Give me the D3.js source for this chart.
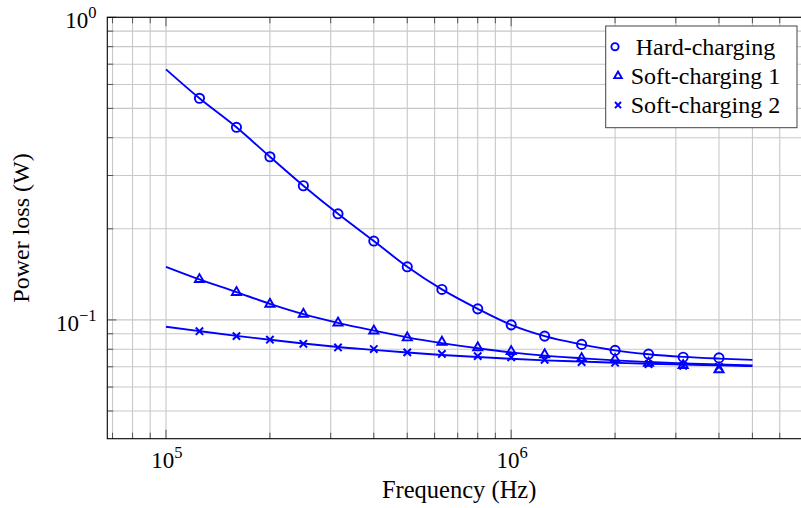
<!DOCTYPE html>
<meta charset="utf-8">
<head>
    <title>Power loss vs frequency</title>
</head>
<style>
    body { margin: 0; background: #fff; }
    text { font-family: "Liberation Serif", "Times New Roman", serif; fill: #000; }
</style>
<div id="chart"></div>
<script src="https://d3js.org/d3.v7.min.js"></script>
<script>

    // measured points (markers)
    var markerFreq = [1.25e5, 1.6e5, 2e5, 2.5e5, 3.15e5, 4e5, 5e5, 6.3e5, 8e5,
                      1e6, 1.25e6, 1.6e6, 2e6, 2.5e6, 3.15e6, 4e6];
    var hardPts  = [0.540, 0.433, 0.346, 0.2776, 0.2242, 0.1822, 0.1498, 0.1261, 0.1088,
                    0.0963, 0.0884, 0.0830, 0.0793, 0.0771, 0.0753, 0.0749];
    var soft1Pts = [0.1361, 0.1233, 0.1128, 0.1045, 0.0978, 0.0920, 0.0873, 0.0845, 0.0810,
                    0.0787, 0.0768, 0.0746, 0.0740, 0.0720, 0.0707, 0.0685];
    var soft2Pts = [0.0918, 0.0884, 0.0860, 0.0834, 0.0811, 0.0801, 0.0781, 0.0772, 0.0759,
                    0.0752, 0.0738, 0.0726, 0.0722, 0.0714, 0.0705, 0.0700];

    // model curves (solid lines)
    var curveFreq = [1e5, 1.25e5, 1.6e5, 2e5, 2.5e5, 3.15e5, 4e5, 5e5, 6.3e5, 8e5,
                     1e6, 1.25e6, 1.6e6, 2e6, 2.5e6, 3.15e6, 4e6, 5e6];
    var hardFit  = [0.673, 0.540, 0.433, 0.346, 0.2776, 0.2242, 0.1822, 0.1498, 0.1261, 0.1088,
                    0.0963, 0.0884, 0.0830, 0.0793, 0.0770, 0.0755, 0.0745, 0.0738];
    var soft1Fit = [0.1498, 0.1361, 0.1236, 0.1130, 0.1045, 0.0978, 0.0922, 0.0876, 0.0838, 0.0806,
                    0.0781, 0.0762, 0.0747, 0.0735, 0.0726, 0.0718, 0.0712, 0.0707];
    var soft2Fit = [0.0949, 0.0918, 0.0886, 0.0860, 0.0836, 0.0814, 0.0796, 0.0780, 0.0766, 0.0754,
                    0.0744, 0.0735, 0.0728, 0.0722, 0.0716, 0.0712, 0.0708, 0.0704];

    var seriesNames = ["Hard-charging", "Soft-charging 1", "Soft-charging 2"];
    var seriesMarks = ["circle", "triangle", "cross"];

    var xMajor = [1e5, 1e6];
    var xMinor = [7e4, 8e4, 9e4, 2e5, 3e5, 4e5, 5e5, 6e5, 7e5, 8e5, 9e5,
                  2e6, 3e6, 4e6, 5e6, 6e6, 7e6];
    var yMajor = [1e-1, 1];
    var yMinor = [0.05, 0.06, 0.07, 0.08, 0.09, 0.2, 0.3, 0.4, 0.5, 0.6, 0.7, 0.8, 0.9];
    var xTickExp = ["5", "6"];
    var yTickExp = ["\u22121", "0"];

    var W = 801, H = 508;
    var pL = 107.3, pR = 811, pT = 17.3, pB = 438.7;
    var blue = "#0000ff";

    var svg = d3.select("#chart").append("svg")
        .attr("width", W).attr("height", H);

    var x = d3.scaleLog().domain([6.76e4, 7.39e6]).range([pL, pR]);
    var y = d3.scaleLog().domain([0.0405, 1]).range([pB, pT]);

    // grid
    var grid = svg.append("g").attr("stroke", "#c8c8c8").attr("stroke-width", 1.1);
    grid.selectAll(".gx").data(xMinor.concat(xMajor)).enter().append("line")
        .attr("x1", d => x(d)).attr("x2", d => x(d))
        .attr("y1", pT).attr("y2", pB);
    grid.selectAll(".gy").data(yMinor.concat(yMajor)).enter().append("line")
        .attr("x1", pL).attr("x2", pR)
        .attr("y1", d => y(d)).attr("y2", d => y(d));

    // tick marks on all sides, pointing inward
    var ticks = svg.append("g").attr("stroke", "#555").attr("stroke-width", 1);
    function xTicks(vals, len) {
        ticks.selectAll(null).data(vals).enter().append("line")
            .attr("x1", d => x(d)).attr("x2", d => x(d))
            .attr("y1", pB).attr("y2", pB - len);
        ticks.selectAll(null).data(vals).enter().append("line")
            .attr("x1", d => x(d)).attr("x2", d => x(d))
            .attr("y1", pT).attr("y2", pT + len);
    }
    function yTicks(vals, len) {
        ticks.selectAll(null).data(vals).enter().append("line")
            .attr("x1", pL).attr("x2", pL + len)
            .attr("y1", d => y(d)).attr("y2", d => y(d));
    }
    xTicks(xMinor, 6); xTicks(xMajor, 9);
    yTicks(yMinor, 6); yTicks(yMajor, 9);

    // frame
    svg.append("rect")
        .attr("x", pL).attr("y", pT)
        .attr("width", pR - pL).attr("height", pB - pT)
        .attr("fill", "none").attr("stroke", "#000").attr("stroke-width", 1.1);

    // tick labels
    xMajor.forEach(function(v, i) {
        var t = svg.append("text")
            .attr("x", x(v) + 1).attr("y", 467.5)
            .attr("text-anchor", "middle")
            .style("font-size", "23px");
        t.append("tspan").text("10");
        t.append("tspan").attr("dy", -10).style("font-size", "16.5px").text(xTickExp[i]);
    });
    yMajor.forEach(function(v, i) {
        var t = svg.append("text")
            .attr("x", 96.5).attr("y", y(v) + 10.8)
            .attr("text-anchor", "end")
            .style("font-size", "23px");
        t.append("tspan").text("10");
        t.append("tspan").attr("dy", -10).style("font-size", "16.5px").text(yTickExp[i]);
    });

    // axis labels
    svg.append("text")
        .attr("x", (pL + pR) / 2).attr("y", 497.5)
        .attr("text-anchor", "middle")
        .style("font-size", "24.5px")
        .text("Frequency (Hz)");
    svg.append("text")
        .attr("transform", "translate(28.5," + ((pT + pB) / 2) + ") rotate(-90)")
        .attr("text-anchor", "middle")
        .style("font-size", "24px")
        .text("Power loss (W)");

    // lines
    var line = d3.line()
        .x(function(d) { return x(d[0]); })
        .y(function(d) { return y(d[1]); })
        .curve(d3.curveMonotoneX);

    var plot = svg.append("g");
    [hardFit, soft1Fit, soft2Fit].forEach(function(fit) {
        plot.append("path")
            .datum(d3.zip(curveFreq, fit))
            .attr("fill", "none")
            .attr("stroke", blue)
            .attr("stroke-width", 1.9)
            .attr("d", line);
    });

    // markers
    function drawMark(g, kind, cx, cy, size) {
        if (kind === "circle") {
            g.append("circle").attr("cx", cx).attr("cy", cy).attr("r", size)
                .attr("fill", "none").attr("stroke", blue).attr("stroke-width", 1.9);
        } else if (kind === "triangle") {
            var s = size * 1.15;
            g.append("path")
                .attr("d", "M" + cx + "," + (cy - s) +
                           "L" + (cx + s * 0.866) + "," + (cy + s * 0.5) +
                           "L" + (cx - s * 0.866) + "," + (cy + s * 0.5) + "Z")
                .attr("fill", "none").attr("stroke", blue).attr("stroke-width", 1.9);
        } else {
            var c = size * 0.8;
            g.append("path")
                .attr("d", "M" + (cx - c) + "," + (cy - c) + "L" + (cx + c) + "," + (cy + c) +
                           "M" + (cx - c) + "," + (cy + c) + "L" + (cx + c) + "," + (cy - c))
                .attr("fill", "none").attr("stroke", blue).attr("stroke-width", 2);
        }
    }
    [hardPts, soft1Pts, soft2Pts].forEach(function(pts, si) {
        var g = plot.append("g");
        markerFreq.forEach(function(f, i) {
            drawMark(g, seriesMarks[si], x(f), y(pts[i]), 4.6);
        });
    });

    // legend
    var lg = svg.append("g");
    lg.append("rect")
        .attr("x", 605.7).attr("y", 26)
        .attr("width", 191.3).attr("height", 101.7)
        .attr("fill", "#fff").attr("stroke", "#444").attr("stroke-width", 1);
    var legX = [615, 618, 618];
    seriesNames.forEach(function(name, i) {
        var base = 55 + i * 29.2;
        drawMark(lg, seriesMarks[i], legX[i], base - 8.3, i === 0 ? 3.6 : 3.8);
        lg.append("text")
            .attr("x", 705.5).attr("y", base)
            .attr("text-anchor", "middle")
            .style("font-size", "24px")
            .text(name);
    });

</script>
